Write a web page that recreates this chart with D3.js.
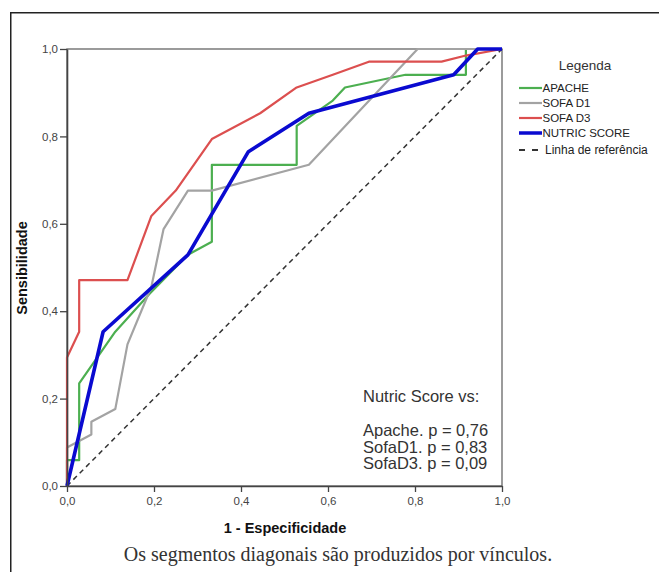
<!DOCTYPE html>
<html>
<head>
<meta charset="utf-8">
<script src="https://cdn.jsdelivr.net/npm/d3@7"></script>
<style>
  body { margin: 0; background: #fff; }
  svg text { font-family: "Liberation Sans", Arial, sans-serif; }
</style>
</head>
<body>
<div id="root"></div>
<script>
// curvas ROC: [1 - especificidade, sensibilidade]
var apache = [[0, 0], [0, 0.059], [0.028, 0.059], [0.028, 0.235], [0.111, 0.353], [0.191, 0.441],
  [0.278, 0.529], [0.333, 0.559], [0.333, 0.735], [0.528, 0.735], [0.528, 0.824], [0.611, 0.882],
  [0.639, 0.912], [0.778, 0.941], [0.917, 0.941], [0.917, 1], [1, 1]]
var sofaD1 = [[0, 0], [0, 0.088], [0.028, 0.103], [0.056, 0.118], [0.056, 0.147], [0.111, 0.176],
  [0.139, 0.324], [0.194, 0.456], [0.222, 0.588], [0.278, 0.676], [0.333, 0.676], [0.556, 0.735],
  [0.806, 1], [1, 1]]
var sofaD3 = [[0, 0], [0, 0.294], [0.028, 0.353], [0.028, 0.471], [0.139, 0.471], [0.194, 0.618],
  [0.25, 0.676], [0.333, 0.794], [0.444, 0.853], [0.528, 0.912], [0.611, 0.941], [0.694, 0.971],
  [0.861, 0.971], [0.917, 0.985], [1, 1]]
var nutric = [[0, 0], [0.083, 0.353], [0.278, 0.529], [0.417, 0.765], [0.556, 0.853],
  [0.889, 0.941], [0.944, 1], [1, 1]]
var referencia = [[0, 0], [1, 1]]

var seriesNames = ['APACHE', 'SOFA D1', 'SOFA D3', 'NUTRIC SCORE', 'Linha de referência']
var ticks = [0, 0.2, 0.4, 0.6, 0.8, 1.0]
var notes = ['Nutric Score vs:', 'Apache. p = 0,76', 'SofaD1. p = 0,83', 'SofaD3. p = 0,09']

var W = 659, H = 572
var pLeft = 67, pRight = 502, pTop = 49, pBottom = 486

var svg = d3.select('#root').append('svg').attr('width', W).attr('height', H)

// moldura externa
svg.append('path').attr('d', 'M10.75,572V12.75H659')
  .attr('fill', 'none').attr('stroke', '#222').attr('stroke-width', 1.5)

var x = d3.scaleLinear().domain([0, 1]).range([pLeft, pRight])
var y = d3.scaleLinear().domain([0, 1]).range([pBottom, pTop])
var fmt = d3.formatLocale({ decimal: ',', thousands: '.', grouping: [3], currency: ['', ''] }).format('.1f')

// caixa do grafico
svg.append('rect').attr('x', pLeft).attr('y', pTop).attr('width', pRight - pLeft).attr('height', pBottom - pTop)
  .attr('fill', 'none').attr('stroke', '#666').attr('stroke-width', 1.3)

var line = d3.line().x(function (d) { return x(d[0]) }).y(function (d) { return y(d[1]) })

svg.append('path').datum(referencia).attr('d', line)
  .attr('fill', 'none').attr('stroke', '#333').attr('stroke-width', 1.5).attr('stroke-dasharray', '5,4')

var curves = [
  { data: apache, color: '#4caf50', w: 2.2 },
  { data: sofaD1, color: '#a3a3a3', w: 2.2 },
  { data: sofaD3, color: '#dc4f4f', w: 2.2 },
  { data: nutric, color: '#0a0ad0', w: 3.6 }
]
curves.forEach(function (c) {
  svg.append('path').datum(c.data).attr('d', line)
    .attr('fill', 'none').attr('stroke', c.color).attr('stroke-width', c.w)
    .attr('stroke-linejoin', 'round')
})

// eixos
var xAxis = svg.append('g').attr('transform', 'translate(0,' + pBottom + ')')
  .call(d3.axisBottom(x).tickValues(ticks).tickFormat(fmt).tickSize(6).tickSizeOuter(0).tickPadding(5))
var yAxis = svg.append('g').attr('transform', 'translate(' + pLeft + ',0)')
  .call(d3.axisLeft(y).tickValues(ticks).tickFormat(fmt).tickSize(7).tickSizeOuter(0).tickPadding(2))
;[xAxis, yAxis].forEach(function (a) {
  a.select('.domain').attr('stroke', '#444').attr('stroke-width', 1.6)
  a.selectAll('.tick line').attr('stroke', '#444').attr('stroke-width', 1.3)
  a.selectAll('.tick text').attr('fill', '#444').style('font-size', '11.5px')
})

svg.append('text').attr('x', 285).attr('y', 533).attr('text-anchor', 'middle')
  .style('font-size', '14.5px').style('font-weight', 'bold').attr('fill', '#111')
  .text('1 - Especificidade')
svg.append('text').attr('transform', 'translate(27,268) rotate(-90)').attr('text-anchor', 'middle')
  .style('font-size', '14.5px').style('font-weight', 'bold').attr('fill', '#111')
  .text('Sensibilidade')

// anotacao
svg.append('g').selectAll('text').data(notes).enter().append('text')
  .attr('x', 363)
  .attr('y', function (d, i) { return i == 0 ? 402 : 419 + 16.8 * i })
  .style('font-size', '16.5px').attr('fill', '#333')
  .text(function (d) { return d })

// legenda
var legend = svg.append('g')
legend.append('text').attr('x', 585).attr('y', 70).attr('text-anchor', 'middle')
  .style('font-size', '13.5px').attr('fill', '#333').text('Legenda')
var legRow = legend.selectAll('g.item').data(seriesNames).enter().append('g')
  .attr('class', 'item')
  .attr('transform', function (d, i) { return 'translate(0,' + (88 + 15 * i + (i == 4 ? 2 : 0)) + ')' })
legRow.append('line').attr('x1', 519).attr('x2', function (d, i) { return i == 4 ? 539 : 542 })
  .attr('y1', 0).attr('y2', 0)
  .attr('stroke', function (d, i) { return i < 4 ? curves[i].color : '#333' })
  .attr('stroke-width', function (d, i) { return i == 3 ? 3.5 : 2.2 })
  .attr('stroke-dasharray', function (d, i) { return i == 4 ? '6,7' : null })
legRow.append('text').attr('x', function (d, i) { return i == 4 ? 545 : 542.5 }).attr('y', 4.2)
  .style('font-size', function (d, i) { return i == 4 ? '12px' : '11.5px' }).attr('fill', '#222')
  .text(function (d) { return d })

svg.append('text').attr('x', 338).attr('y', 561).attr('text-anchor', 'middle')
  .style('font-family', '"Liberation Serif", "Times New Roman", serif').style('font-size', '20px')
  .attr('fill', '#333')
  .text('Os segmentos diagonais são produzidos por vínculos.')
</script>
</body>
</html>
